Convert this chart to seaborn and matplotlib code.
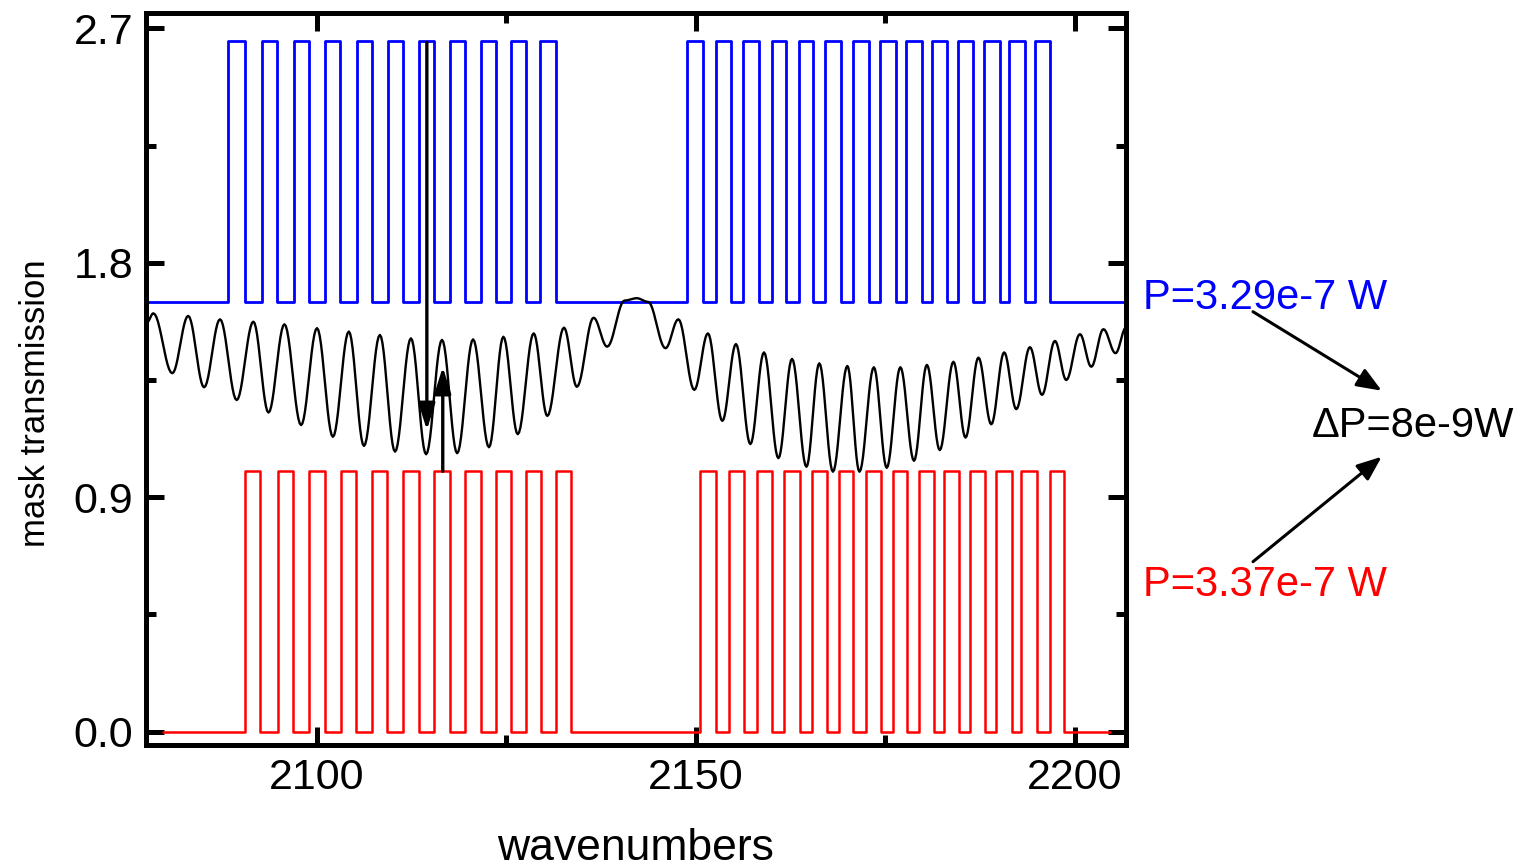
import numpy as np
import matplotlib
matplotlib.use("Agg")
import matplotlib.pyplot as plt
import seaborn as sns

# mask pulse edges (wavenumbers)
blue_on = [2088.3, 2092.7, 2096.9, 2101.1, 2105.3, 2109.4, 2113.5, 2117.6, 2121.6, 2125.6, 2129.5,
           2148.8, 2152.6, 2156.2, 2160.0, 2163.6, 2167.1, 2170.8, 2174.3, 2177.8, 2181.2, 2184.6,
           2188.0, 2191.4, 2194.8]
blue_off = [2090.5, 2094.7, 2098.9, 2103.1, 2107.3, 2111.4, 2115.5, 2119.6, 2123.6, 2127.6, 2131.5,
            2150.9, 2154.6, 2158.3, 2161.9, 2165.5, 2169.2, 2172.8, 2176.4, 2179.8, 2183.2, 2186.6,
            2190.1, 2193.5, 2196.8]
red_on = [2090.5, 2094.8, 2099.0, 2103.2, 2107.3, 2111.4, 2115.5, 2119.6, 2123.6, 2127.6, 2131.5,
          2150.6, 2154.4, 2158.1, 2161.7, 2165.3, 2168.9, 2172.5, 2176.0, 2179.4, 2182.8, 2186.2,
          2189.6, 2192.9, 2196.7]
red_off = [2092.5, 2096.8, 2101.0, 2105.2, 2109.3, 2113.4, 2117.5, 2121.6, 2125.6, 2129.6, 2133.5,
           2152.7, 2156.4, 2160.1, 2163.7, 2167.3, 2170.8, 2174.4, 2177.9, 2181.4, 2184.8, 2188.2,
           2191.7, 2195.0, 2198.6]

blue_range = [2077.6, 2206.8]
red_range = [2079.7, 2204.7]
blue_levels = [1.65, 2.65]
red_levels = [0.0, 1.0]

# fringe pattern: peaks and troughs
fringe_x = [2077.6, 2078.4, 2080.9, 2083.0, 2085.1, 2087.2, 2089.4, 2091.6, 2093.6, 2095.7,
            2097.9, 2100.0, 2102.1, 2104.2, 2106.2, 2108.3, 2110.3, 2112.4, 2114.4, 2116.5,
            2118.5, 2120.6, 2122.7, 2124.6, 2126.5, 2128.6, 2130.4, 2132.6, 2134.3, 2136.5,
            2138.3, 2140.6, 2142.2, 2143.7, 2146.0, 2147.7, 2149.8, 2151.6, 2153.5, 2155.3,
            2157.2, 2159.0, 2160.9, 2162.7, 2164.6, 2166.3, 2168.1, 2170.0, 2171.6, 2173.5,
            2175.2, 2177.0, 2178.8, 2180.5, 2182.2, 2184.0, 2185.6, 2187.3, 2189.0, 2190.7,
            2192.3, 2194.1, 2195.7, 2197.4, 2198.9, 2200.7, 2202.2, 2203.8, 2205.4, 2206.8]
fringe_y = [1.573, 1.606, 1.376, 1.596, 1.322, 1.583, 1.273, 1.574, 1.225, 1.564,
            1.177, 1.549, 1.132, 1.536, 1.097, 1.523, 1.075, 1.510, 1.065, 1.504,
            1.069, 1.506, 1.092, 1.516, 1.142, 1.529, 1.212, 1.551, 1.324, 1.589,
            1.478, 1.655, 1.664, 1.650, 1.472, 1.583, 1.312, 1.529, 1.193, 1.488,
            1.104, 1.456, 1.050, 1.431, 1.017, 1.414, 0.998, 1.404, 0.998, 1.399,
            1.013, 1.399, 1.040, 1.408, 1.081, 1.420, 1.129, 1.436, 1.180, 1.456,
            1.238, 1.476, 1.293, 1.500, 1.350, 1.526, 1.401, 1.545, 1.453, 1.552]

x_major = [2100, 2150, 2200]
x_minor = [2125, 2175]
y_major = [0.0, 0.9, 1.8, 2.7]
y_minor = [0.45, 1.35, 2.25]
y_labels = ["0.0", "0.9", "1.8", "2.7"]

# arrows inside the plot (data units)
down_arrow = [(2114.5, 2.645), (2114.5, 1.158)]
up_arrow = [(2116.6, 1.0), (2116.6, 1.40)]

labels = ["P=3.29e-7 W", "\u0394P=8e-9W", "P=3.37e-7 W"]


def mask_trace(x_range, levels, on, off):
    lo, hi = levels
    xs, ys = [x_range[0]], [lo]
    for a, b in zip(on, off):
        xs += [a, a, b, b]
        ys += [lo, hi, hi, lo]
    xs.append(x_range[1])
    ys.append(lo)
    return np.array(xs), np.array(ys)


def smooth_through(xp, yp, n=12):
    # half-cosine between consecutive extrema
    xs, ys = [], []
    t = np.linspace(0, 1, n, endpoint=False)
    for i in range(len(xp) - 1):
        xs.append(xp[i] + (xp[i + 1] - xp[i]) * t)
        ys.append(yp[i] + (yp[i + 1] - yp[i]) * (1 - np.cos(np.pi * t)) / 2)
    xs.append([xp[-1]])
    ys.append([yp[-1]])
    return np.concatenate(xs), np.concatenate(ys)


sns.set_style("white")
plt.rcParams['font.family'] = ['Liberation Sans', 'DejaVu Sans']
plt.rcParams['text.color'] = 'black'
plt.rcParams['axes.labelcolor'] = 'black'

fig = plt.figure(figsize=(15.28, 8.67), dpi=100)
ax = fig.add_axes([0.0954, 0.1407, 0.6416, 0.8441])

bx, by = mask_trace(blue_range, blue_levels, blue_on, blue_off)
rx, ry = mask_trace(red_range, red_levels, red_on, red_off)
fx, fy = smooth_through(fringe_x, fringe_y)

sns.lineplot(x=bx, y=by, ax=ax, color='#0000ff', lw=2.0, sort=False, estimator=None, legend=False)
sns.lineplot(x=rx, y=ry, ax=ax, color='#ff0000', lw=1.8, sort=False, estimator=None, legend=False)
sns.lineplot(x=fx, y=fy, ax=ax, color='black', lw=1.7, sort=False, estimator=None, legend=False)

head = dict(arrowstyle='-|>,head_length=0.8,head_width=0.25', color='black', lw=2.4,
            shrinkA=0, shrinkB=0, mutation_scale=20)
for start, end in [down_arrow, up_arrow]:
    ax.annotate('', xy=end, xytext=start, arrowprops=head)

ax.set_xlim(2077.4, 2206.8)
ax.set_ylim(-0.051, 2.758)
ax.set_xticks(x_major)
ax.set_xticks(x_minor, minor=True)
ax.set_yticks(y_major)
ax.set_yticklabels(y_labels)
ax.set_yticks(y_minor, minor=True)

for s in ax.spines.values():
    s.set_linewidth(3.6)
    s.set_color('black')
ax.tick_params(which='both', direction='in', top=True, right=True, left=True, bottom=True,
               width=3.6, color='black', labelcolor='black')
ax.tick_params(which='major', length=13, labelsize=31, pad=9)
ax.tick_params(which='minor', length=7)

ax.set_xlabel('wavenumbers', fontsize=32, va='baseline', color='black')
ax.xaxis.set_label_coords(0.5, -0.157)
ax.set_ylabel('mask transmission', fontsize=25, va='baseline', color='black')
ax.yaxis.set_label_coords(-0.103, 0.467)

# text and arrows to the right of the plot (figure fraction)
W, H = 1528.0, 867.0
fig.text(1143 / W, 1 - 309 / H, labels[0], color='#0000ff', fontsize=30, ha='left', va='baseline')
fig.text(1312 / W, 1 - 437 / H, labels[1], color='black', fontsize=30, ha='left', va='baseline')
fig.text(1143 / W, 1 - 595.5 / H, labels[2], color='#ff0000', fontsize=30, ha='left', va='baseline')

side = dict(arrowstyle='-|>,head_length=0.75,head_width=0.3', color='black', lw=2.2,
            shrinkA=0, shrinkB=0, mutation_scale=20)
fig_arrows = [((1253, 311.7), (1381.7, 390.7)), ((1253, 561.7), (1381.7, 456.7))]
for (x0, y0), (x1, y1) in fig_arrows:
    ax.annotate('', xy=(x1 / W, 1 - y1 / H), xytext=(x0 / W, 1 - y0 / H),
                xycoords='figure fraction', textcoords='figure fraction', arrowprops=side,
                annotation_clip=False)

fig.savefig('out.png', dpi=100)
